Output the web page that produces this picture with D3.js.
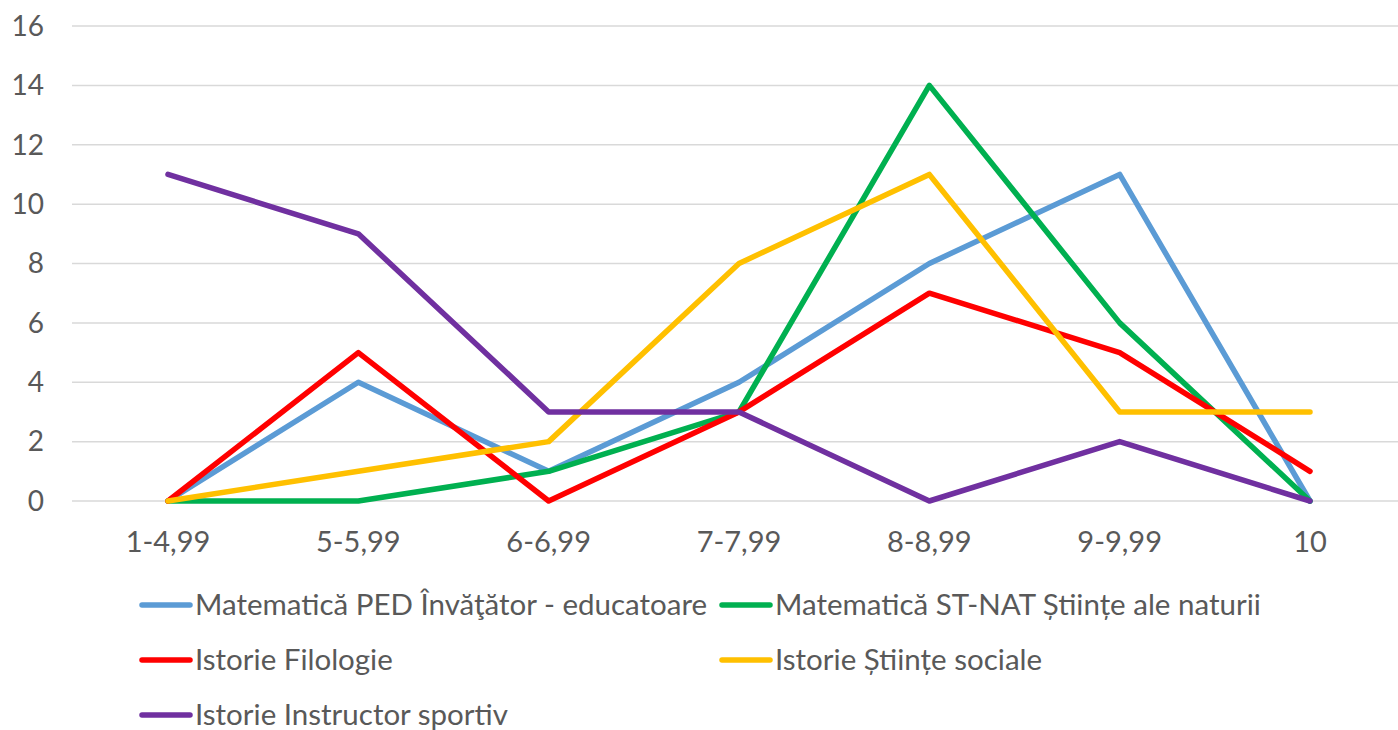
<!DOCTYPE html>
<html>
<head>
<meta charset="utf-8">
<script src="https://cdn.jsdelivr.net/npm/d3@7"></script>
<style>
  body { margin: 0; background: #fff; }
  text { font-family: Lato, "Open Sans", sans-serif; fill: #595959; }
</style>
</head>
<body>
<div class="chart"></div>
<script>
// categories (grade intervals)
var categories = ['1-4,99', '5-5,99', '6-6,99', '7-7,99', '8-8,99', '9-9,99', '10'];

// series values
var pedInv   = [0, 4, 1, 4, 8, 11, 0];
var stNat    = [0, 0, 1, 3, 14, 6, 0];
var filolog  = [0, 5, 0, 3, 7, 5, 1];
var sociale  = [0, 1, 2, 8, 11, 3, 3];
var sportiv  = [11, 9, 3, 3, 0, 2, 0];

var seriesNames = ['Matematică PED Învăţător - educatoare', 'Matematică ST-NAT Științe ale naturii',
                   'Istorie Filologie', 'Istorie Științe sociale', 'Istorie Instructor sportiv'];
var yTicks = [0, 2, 4, 6, 8, 10, 12, 14, 16];

var colors = ['#5B9BD5', '#00B050', '#FF0000', '#FFC000', '#7030A0'];
var series = [pedInv, stNat, filolog, sociale, sportiv].map(function(v, i) {
  return {name: seriesNames[i], values: v, color: colors[i]};
});

var w = 1398, h = 730;
var svg = d3.select('div.chart').append('svg')
  .attr('width', w).attr('height', h);

var x = d3.scalePoint().domain(categories).range([168, 1310]);
var y = d3.scaleLinear().domain([0, 16]).range([501, 26]);

// gridlines
svg.append('g').selectAll('line')
  .data(yTicks).enter().append('line')
  .attr('x1', 72).attr('x2', w)
  .attr('y1', d => y(d)).attr('y2', d => y(d))
  .attr('stroke', '#d9d9d9').attr('stroke-width', 1.5);

// y labels
svg.append('g').selectAll('text')
  .data(yTicks).enter().append('text')
  .attr('x', 44).attr('y', d => y(d))
  .attr('dy', '0.35em')
  .attr('text-anchor', 'end')
  .attr('font-size', '28px')
  .text(d => d);

// x labels
svg.append('g').selectAll('text')
  .data(categories).enter().append('text')
  .attr('x', d => x(d)).attr('y', 552)
  .attr('text-anchor', 'middle')
  .attr('font-size', '29px')
  .text(d => d);

var line = d3.line()
  .x((d, i) => x(categories[i]))
  .y(d => y(d));

svg.append('g').selectAll('path')
  .data(series).enter().append('path')
  .attr('d', d => line(d.values))
  .attr('fill', 'none')
  .attr('stroke', d => d.color)
  .attr('stroke-width', 5.5)
  .attr('stroke-linejoin', 'round')
  .attr('stroke-linecap', 'round');

// legend
var legendPos = [[140, 605], [720, 605], [140, 660], [720, 660], [140, 715]];
var leg = svg.append('g').selectAll('g')
  .data(series).enter().append('g')
  .attr('transform', (d, i) => 'translate(' + legendPos[i][0] + ',' + legendPos[i][1] + ')');

leg.append('line')
  .attr('x1', 2).attr('x2', 50)
  .attr('stroke', d => d.color)
  .attr('stroke-width', 5.5)
  .attr('stroke-linecap', 'round');

leg.append('text')
  .attr('x', 55).attr('dy', '0.35em')
  .attr('font-size', '29.5px')
  .text(d => d.name);
</script>
</body>
</html>
